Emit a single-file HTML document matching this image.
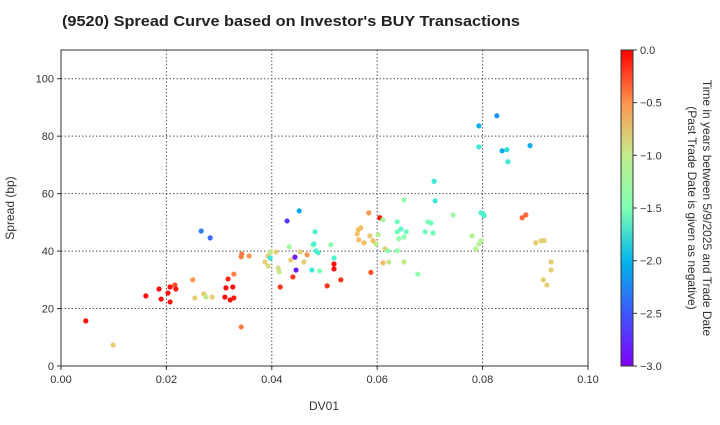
<!DOCTYPE html>
<html><head><meta charset="utf-8"><style>
body{margin:0;background:#fff;font-family:"Liberation Sans",Arial,sans-serif}
svg text{font-family:"Liberation Sans",Arial,sans-serif}
</style></head><body>
<svg id="c" width="720" height="420" xmlns="http://www.w3.org/2000/svg">
<defs><linearGradient id="cb" x1="0" y1="1" x2="0" y2="0">
<stop offset="0" stop-color="#8000ff"/><stop offset="0.17" stop-color="#3c59fb"/><stop offset="0.33" stop-color="#00b5eb"/><stop offset="0.5" stop-color="#80ffb4"/><stop offset="0.67" stop-color="#c4eb8c"/><stop offset="0.83" stop-color="#ff964f"/><stop offset="1" stop-color="#ff0000"/></linearGradient></defs>
<text x="62" y="26" font-size="15" font-weight="bold" fill="#222" textLength="458" lengthAdjust="spacingAndGlyphs">(9520)   Spread Curve based on Investor's BUY Transactions</text>
<g id="plot"></g>
<rect x="621" y="50" width="12" height="316" fill="url(#cb)"/>
<text transform="translate(697,208) rotate(90)" text-anchor="middle" font-size="12" fill="#333"><tspan x="0" dy="-6">Time in years between 5/9/2025 and Trade Date</tspan><tspan x="0" dy="15">(Past Trade Date is given as negative)</tspan></text>
<text transform="translate(14,208) rotate(-90)" text-anchor="middle" font-size="12" fill="#333">Spread (bp)</text>
<text x="324" y="410" text-anchor="middle" font-size="12" fill="#333">DV01</text>
</svg>
<script>
const xs=[.0047,.0099,.0161,.0186,.0190,.0203,.0207,.0207,.0216,.0218,.0250,.0254,.0266,.0283,.0271,.0275,.0287,.0311,.0313,.0321,.0326,.0328,.0317,.0328,.0342,.0342,.0343,.0357,.0387,.0393,.0393,.0397,.0397,.0408,.0412,.0414,.0416,.0429,.0433,.0436,.0440,.0444,.0446,.0452,.0454,.0461,.0467,.0476,.0478,.0480,.0482,.0484,.0488,.0491,.0505,.0512,.0518,.0518,.0518,.0531,.0562,.0564,.0569,.0565,.0575,.0584,.0586,.0588,.0592,.0598,.0602,.0605,.0611,.0611,.0615,.0620,.0622,.0638,.0638,.0638,.0641,.0645,.0651,.0651,.0651,.0655,.0677,.0691,.0696,.0702,.0706,.0710,.0708,.0744,.0780,.0787,.0793,.0793,.0793,.0797,.0801,.0803,.0797,.0827,.0837,.0846,.0848,.0890,.0875,.0882,.0901,.0911,.0917,.0915,.0922,.0930,.0930];
const ys=[15.7,7.3,24.4,26.8,23.3,25.4,22.3,27.5,28.2,26.8,30,23.7,47,44.6,25.1,24,24,24,27.2,23,27.5,23.7,30.3,32,13.6,38,39,38.3,36.2,38.3,34.8,37.6,39.7,39.7,34.1,32.8,27.5,50.5,41.5,36.9,31,37.9,33.4,54,39.7,36.2,38.7,33.4,42.2,42.5,46.7,40.1,39.4,33.1,27.9,42.2,37.6,35.5,33.8,30,46,47.4,48.1,43.9,42.9,53.3,45.3,32.6,43.6,42.5,45.7,51.6,50.9,35.9,40.8,40.1,36.2,40.1,50.2,46.7,44.3,47.7,36.2,57.8,44.9,46.7,32,46.7,50.2,49.8,46.3,57.5,64.3,52.6,45.3,40.8,83.6,76.3,42.5,53.3,53,52.3,43.6,87.1,74.9,75.3,71.1,76.7,51.6,52.6,42.9,43.6,43.6,30,28.2,33.4,36.2];
const ts=[-0.05,-0.9,-0.05,-0.05,-0.05,-0.05,-0.05,-0.05,-0.3,-0.1,-0.6,-0.9,-2.5,-2.6,-0.9,-1.1,-0.9,-0.05,-0.05,-0.05,-0.05,-0.1,-0.15,-0.5,-0.5,-0.5,-0.5,-0.6,-0.9,-0.9,-1.0,-1.9,-1.1,-0.9,-1.0,-1.1,-0.2,-2.8,-1.3,-0.9,-0.2,-2.9,-2.9,-2.3,-0.9,-0.9,-0.6,-1.9,-1.4,-1.8,-1.8,-1.8,-1.8,-1.5,-0.2,-1.4,-1.8,-0.05,-0.05,-0.2,-0.8,-0.8,-0.8,-0.8,-0.8,-0.6,-0.9,-0.3,-0.8,-1.1,-1.2,-0.05,-1.3,-0.8,-0.9,-1.4,-1.1,-1.4,-1.6,-1.6,-1.4,-1.7,-1.1,-1.4,-1.4,-1.6,-1.4,-1.6,-1.5,-1.6,-1.6,-1.9,-1.9,-1.3,-1.2,-1.2,-2.3,-1.9,-1.2,-1.8,-1.8,-1.8,-1.2,-2.4,-2.3,-2.0,-1.9,-2.3,-0.4,-0.4,-0.9,-0.9,-0.9,-0.9,-0.9,-0.9,-0.9];
const xTicks=[0,0.02,0.04,0.06,0.08,0.10];
const xTickLabels=["0.00","0.02","0.04","0.06","0.08","0.10"];
const yTicks=[0,20,40,60,80,100];
const cTicks=[0,-0.5,-1,-1.5,-2,-2.5,-3];
const cTickLabels=["0.0","−0.5","−1.0","−1.5","−2.0","−2.5","−3.0"];
const L=61,R=588,T=50,B=366;
const sx=v=>L+v/0.1*(R-L), sy=v=>B-v/110*(B-T), sc=v=>T+(-v)/3*(B-T);
function rainbow(t){const s=(t+3)/3;const cl=v=>Math.max(0,Math.min(1,v));
const r=cl(Math.abs(2*s-0.5)),g=cl(Math.sin(Math.PI*s)),b=cl(Math.cos(Math.PI*s/2));
return `rgb(${Math.round(r*255)},${Math.round(g*255)},${Math.round(b*255)})`;}
const NS="http://www.w3.org/2000/svg",svg=document.getElementById('c'),g=document.getElementById('plot');
function mk(tag,at,par){const e=document.createElementNS(NS,tag);for(const k in at)e.setAttribute(k,at[k]);(par||g).appendChild(e);return e;}
xTicks.forEach((v,i)=>{
 if(i>0&&i<xTicks.length-1){const l=mk('line',{x1:sx(v),x2:sx(v),y1:T,y2:B,stroke:'#555','stroke-dasharray':'1.5,2','stroke-width':1});
 
 }
 mk('line',{x1:sx(v),x2:sx(v),y1:B,y2:B+4,stroke:'#333'});
 const t=mk('text',{x:sx(v),y:B+17,'text-anchor':'middle','font-size':11,fill:'#333'});t.textContent=xTickLabels[i];
 
 
});
yTicks.forEach(v=>{
 if(v>0){const l=mk('line',{x1:L,x2:R,y1:sy(v),y2:sy(v),stroke:'#555','stroke-dasharray':'1.5,2','stroke-width':1});
 
 }
 mk('line',{x1:L-4,x2:L,y1:sy(v),y2:sy(v),stroke:'#333'});
 const t=mk('text',{x:L-7,y:sy(v)+4,'text-anchor':'end','font-size':11,fill:'#333'});t.textContent=v;
 
 
});
const fr=mk('rect',{x:L,y:T,width:R-L,height:B-T,fill:'none',stroke:'#333','stroke-width':1});


xs.forEach((x,i)=>{
 const c=mk('circle',{cx:sx(x),cy:sy(ys[i]),r:2.6,fill:rainbow(ts[i])});
 
 
});
mk('rect',{x:621,y:50,width:12,height:316,fill:'none',stroke:'#333'},svg);
cTicks.forEach((v,i)=>{
 mk('line',{x1:633,x2:637,y1:sc(v),y2:sc(v),stroke:'#333'},svg);
 const t=mk('text',{x:640,y:sc(v)+4,'font-size':11,fill:'#333'},svg);t.textContent=cTickLabels[i];
 
 
});
</script>
</body></html>
